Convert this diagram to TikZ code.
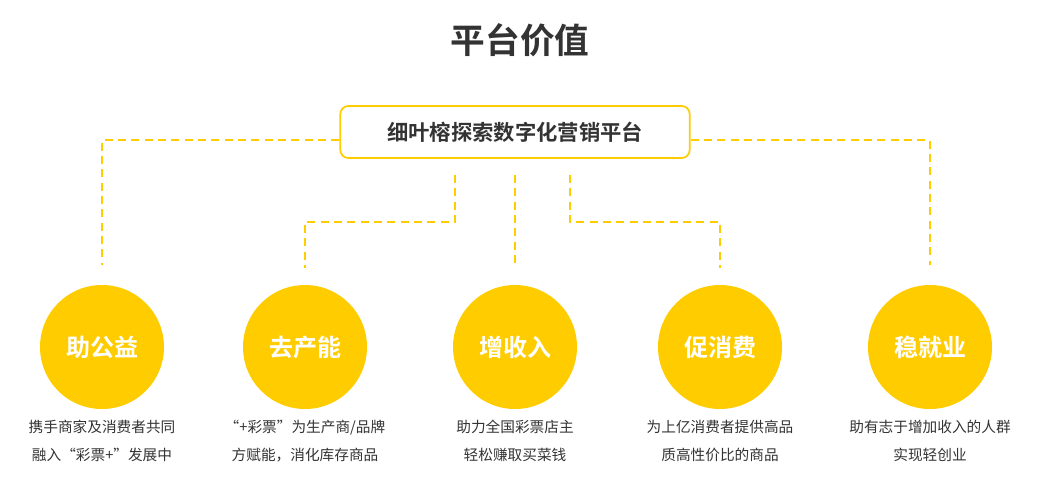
\documentclass[tikz,border=0pt]{standalone}
\usepackage{fontspec}
\setmainfont{Noto Sans CJK SC}
\newfontfamily\cjkb{Noto Sans CJK SC Bold}
\begin{document}
\begin{tikzpicture}[x=0.75pt,y=-0.75pt]
\definecolor{ylw}{HTML}{FFCC00}
\definecolor{txt}{HTML}{333333}
\tikzset{
 dl/.style={draw=ylw,line width=1.5pt,dash pattern=on 6pt off 4pt},
 circ/.style={circle,fill=ylw,minimum size=93pt,inner sep=0pt,text=white,font=\cjkb\fontsize{18}{20}\selectfont},
 captxt/.style={text=txt,font=\fontsize{11}{21}\selectfont,align=center,anchor=north}
}
\useasboundingbox (0,0) rectangle (1039,494);
\node[text=txt,font=\cjkb\fontsize{26}{30}\selectfont] (title) at (520,40) {平台价值};
\node[draw=ylw,line width=1.3pt,rounded corners=6pt,minimum width=262pt,minimum height=39pt,text=txt,font=\cjkb\fontsize{16}{18}\selectfont] (box) at (515,132) {细叶榕探索数字化营销平台};
\node[circ] (c1) at (102,347) {助公益};
\node[circ] (c2) at (305,347) {去产能};
\node[circ] (c3) at (515,347) {增收入};
\node[circ] (c4) at (720,347) {促消费};
\node[circ] (c5) at (930,347) {稳就业};
\coordinate (l1) at (102,265); \coordinate (l2) at (305,268);
\coordinate (l3) at (515,265); \coordinate (l4) at (720,268);
\coordinate (l5) at (930,265);
\draw[dl] (box.west |- 0,140) -- (102,140) -- (l1);
\draw[dl] (box.east |- 0,140) -- (930,140) -- (l5);
\draw[dl] (455,175) -- (455,222) -- (305,222) -- (l2);
\draw[dl] (515,175) -- (l3);
\draw[dl] (570,175) -- (570,222) -- (720,222) -- (l4);
\node[captxt] (t1) at (102,415) {携手商家及消费者共同\\融入“彩票+”发展中};
\node[captxt] (t2) at (305,415) {“+彩票”为生产商/品牌\\方赋能，消化库存商品};
\node[captxt] (t3) at (515,415) {助力全国彩票店主\\轻松赚取买菜钱};
\node[captxt] (t4) at (720,415) {为上亿消费者提供高品\\质高性价比的商品};
\node[captxt] (t5) at (930,415) {助有志于增加收入的人群\\实现轻创业};
\end{tikzpicture}
\end{document}
